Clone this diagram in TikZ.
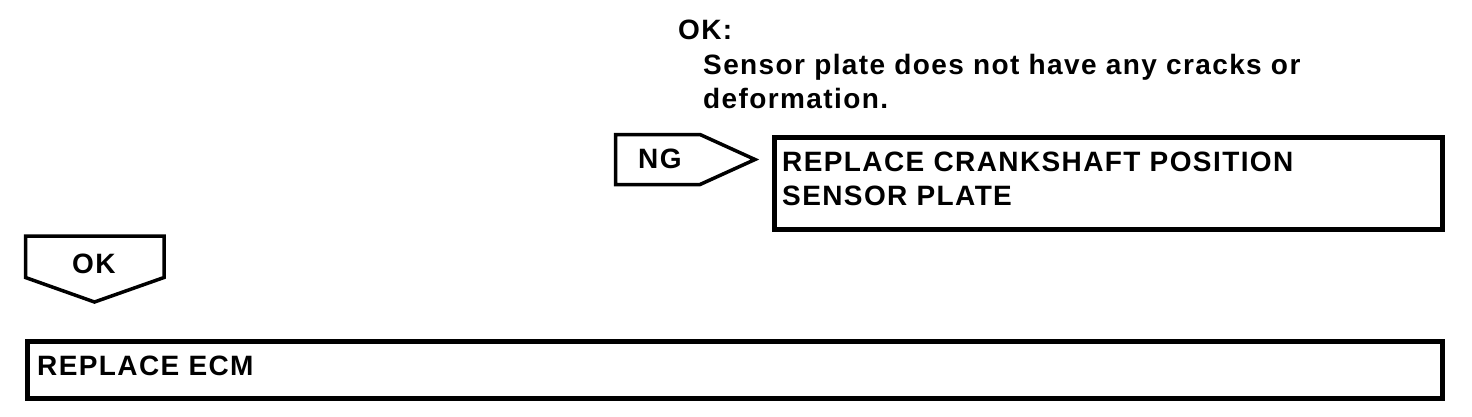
\documentclass[tikz,border=0pt]{standalone}
\usepackage{fontspec}
\setmainfont{Liberation Sans}[LetterSpace=5]
\usetikzlibrary{positioning}

\begin{document}
\begin{tikzpicture}[
    x=1pt, y=-1pt,
    every node/.style={font=\fontsize{28}{34}\selectfont\bfseries, inner sep=0pt},
    box/.style={rectangle, draw, line width=4.5pt, anchor=north west},
    tag/.style={draw, line width=3.5pt, line join=miter},
]
    \useasboundingbox (0,0) rectangle (1472,416);

    % Check result
    \node[anchor=base west] (okhead) at (678,39) {OK:};
    \node[anchor=base west, align=left] (crit) at (703,108)
        {Sensor plate does not have any cracks or\\deformation.};

    % NG branch
    \draw[tag] (615.5,134.5) -- (700,134.5) -- (755,159.5) -- (700,184.5)
        -- (615.5,184.5) -- cycle;
    \node[anchor=base west] (ng) at (638,168) {NG};
    \node[box, minimum width=668pt, minimum height=92pt] (plate) at (772,135) {};
    \node[anchor=base west, align=left] (platetext) at (782,205)
        {REPLACE CRANKSHAFT POSITION\\SENSOR PLATE};

    % OK branch
    \draw[tag] (25.5,236) -- (164,236) -- (164,277.5) -- (94.5,302)
        -- (25.5,277.5) -- cycle;
    \node[anchor=base west] (ok) at (72,273) {OK};
    \node[box, minimum width=1415pt, minimum height=57pt] (ecm) at (25,339) {};
    \node[anchor=base west] (ecmtext) at (37,375) {REPLACE ECM};
\end{tikzpicture}
\end{document}
